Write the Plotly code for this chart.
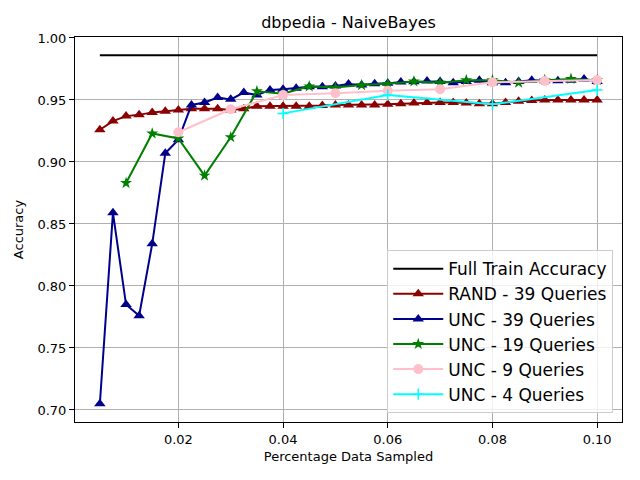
import plotly.graph_objects as go

# sample fractions
x_39 = [0.005 + 0.0025 * i for i in range(39)]
x_19 = [0.01 + 0.005 * i for i in range(19)]
x_9 = [0.02, 0.03, 0.04, 0.05, 0.06, 0.07, 0.08, 0.09, 0.10]
x_4 = [0.04, 0.06, 0.08, 0.10]
x_full = [0.005, 0.10]

full_train = [0.986, 0.986]

rand_39 = [
    0.926, 0.933, 0.937, 0.938, 0.940, 0.941, 0.942, 0.943, 0.943, 0.943,
    0.942, 0.943, 0.945, 0.945, 0.945, 0.945, 0.945, 0.9455, 0.946, 0.946,
    0.946, 0.946, 0.9465, 0.947, 0.9475, 0.948, 0.948, 0.948, 0.9475, 0.947,
    0.947, 0.948, 0.949, 0.9495, 0.950, 0.950, 0.950, 0.950, 0.950,
]
unc_39 = [
    0.705, 0.859, 0.785, 0.776, 0.834, 0.907, 0.918, 0.946, 0.948, 0.952,
    0.9505, 0.956, 0.954, 0.958, 0.9586, 0.9594, 0.9607, 0.9607, 0.9613, 0.9629,
    0.962, 0.963, 0.9634, 0.9645, 0.9648, 0.9653, 0.965, 0.964, 0.965, 0.966,
    0.964, 0.964, 0.965, 0.966, 0.9655, 0.9655, 0.966, 0.967, 0.965,
]
unc_19 = [
    0.883, 0.923, 0.919, 0.889, 0.920, 0.957, 0.955, 0.961, 0.960, 0.962,
    0.963, 0.965, 0.964, 0.966, 0.966, 0.964, 0.966, 0.967, 0.966,
]
unc_9 = [0.924, 0.9425, 0.954, 0.9554, 0.9575, 0.9586, 0.9643, 0.9653, 0.9661]
unc_4 = [0.9392, 0.954, 0.9465, 0.958]

x_ticks = [0.02, 0.04, 0.06, 0.08, 0.10]
x_labels = ["0.02", "0.04", "0.06", "0.08", "0.10"]
y_ticks = [0.70, 0.75, 0.80, 0.85, 0.90, 0.95, 1.00]

FONT = "DejaVu Sans, sans-serif"

fig = go.Figure()
fig.add_trace(go.Scatter(
    x=x_full, y=full_train, mode="lines", name="Full Train Accuracy",
    line=dict(color="black", width=2),
))
fig.add_trace(go.Scatter(
    x=x_39, y=rand_39, mode="lines+markers", name="RAND - 39 Queries",
    line=dict(color="#8b0000", width=2),
    marker=dict(symbol="triangle-up", size=10, color="#8b0000"),
))
fig.add_trace(go.Scatter(
    x=x_39, y=unc_39, mode="lines+markers", name="UNC - 39 Queries",
    line=dict(color="#00008b", width=2),
    marker=dict(symbol="triangle-up", size=10, color="#00008b"),
))
fig.add_trace(go.Scatter(
    x=x_19, y=unc_19, mode="lines+markers", name="UNC - 19 Queries",
    line=dict(color="#008000", width=2),
    marker=dict(symbol="star", size=9, color="#008000"),
))
fig.add_trace(go.Scatter(
    x=x_9, y=unc_9, mode="lines+markers", name="UNC - 9 Queries",
    line=dict(color="#ffc0cb", width=2),
    marker=dict(symbol="circle", size=10, color="#ffc0cb"),
))
fig.add_trace(go.Scatter(
    x=x_4, y=unc_4, mode="lines+markers", name="UNC - 4 Queries",
    line=dict(color="#00ffff", width=2),
    marker=dict(symbol="cross-thin", size=8, color="#00ffff",
                line=dict(color="#00ffff", width=1.5)),
))

axis_common = dict(
    showgrid=True, gridcolor="#b0b0b0", gridwidth=1,
    showline=True, linecolor="black", linewidth=1, mirror=True,
    ticks="outside", ticklen=5, tickcolor="black",
    tickfont=dict(family=FONT, size=13, color="black"),
    zeroline=False, automargin=False,
)

fig.update_xaxes(
    range=[0.00025, 0.10475], tickvals=x_ticks, ticktext=x_labels,
    title=dict(text="Percentage Data Sampled",
               font=dict(family=FONT, size=13, color="black"), standoff=6),
    **axis_common,
)
fig.update_yaxes(
    range=[0.6903, 1.0008], tickvals=y_ticks, tickformat=".2f",
    title=dict(text="Accuracy",
               font=dict(family=FONT, size=13, color="black"), standoff=10),
    **axis_common,
)

# the page body adds an 8px offset, so margins are shifted to compensate
fig.update_layout(
    width=640, height=480,
    margin=dict(l=67, r=26, t=29, b=66, autoexpand=False),
    paper_bgcolor="white", plot_bgcolor="white",
    font=dict(family=FONT, color="black"),
    title=dict(text="dbpedia - NaiveBayes", x=(67 + 614) / 2 / 640,
               xanchor="center", y=1 - 14 / 480, yanchor="middle",
               font=dict(family=FONT, size=16, color="black")),
    legend=dict(
        x=0.984, y=0.023, xanchor="right", yanchor="bottom",
        bgcolor="rgba(255,255,255,0.8)", bordercolor="#cccccc", borderwidth=1,
        font=dict(family=FONT, size=17, color="black"),
        tracegroupgap=0, itemwidth=50,
    ),
    showlegend=True,
)

fig.write_html("out.html")
